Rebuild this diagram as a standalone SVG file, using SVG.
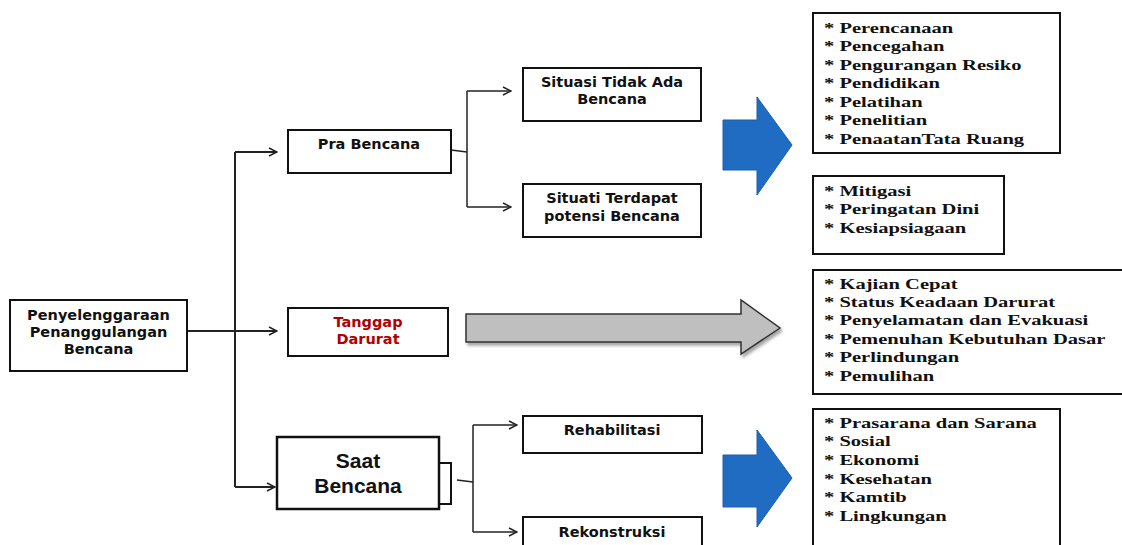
<svg xmlns="http://www.w3.org/2000/svg" width="1122" height="545" viewBox="0 0 1122 545">
<style>
.box{fill:#fff;stroke:#111;stroke-width:2}
.lbl{font-family:"DejaVu Sans",Verdana,sans-serif;font-weight:bold;font-size:14.5px;fill:#111;text-anchor:middle}
.red{fill:#b00000}
.big{font-family:"Liberation Sans",Arial,sans-serif;font-weight:bold;font-size:21px;fill:#111;text-anchor:middle}
.lst{font-family:"Liberation Serif","Times New Roman",serif;font-weight:bold;font-size:15px;fill:#111}
.ln{fill:none;stroke:#222;stroke-width:1.5}
.blue{fill:#1f6cc2;stroke:#1b5fae;stroke-width:1}
</style>
<defs>
<marker id="arr" markerWidth="10" markerHeight="10" refX="9" refY="5" orient="auto" markerUnits="userSpaceOnUse">
<path d="M1,1 L9,5 L1,9" fill="none" stroke="#222" stroke-width="1.5"/>
</marker>
<filter id="sh" x="-10%" y="-20%" width="120%" height="150%">
<feDropShadow dx="2" dy="3" stdDeviation="1.5" flood-color="#000" flood-opacity="0.35"/>
</filter>
</defs>

<g id="connectors">
<path class="ln" d="M187,331 H277" marker-end="url(#arr)" style="stroke-width:2"/>
<path class="ln" d="M235,152 V487" style="stroke-width:2"/>
<path class="ln" d="M235,152 H277" marker-end="url(#arr)" style="stroke-width:2"/>
<path class="ln" d="M235,487 H275" marker-end="url(#arr)" style="stroke-width:2"/>
<path class="ln" d="M451,150 L467,152"/>
<path class="ln" d="M467,91 V207"/>
<path class="ln" d="M467,91 H511" marker-end="url(#arr)"/>
<path class="ln" d="M467,207 H511" marker-end="url(#arr)"/>
<path class="ln" d="M457,480 L473,482"/>
<path class="ln" d="M473,425 V532"/>
<path class="ln" d="M473,425 H517" marker-end="url(#arr)"/>
<path class="ln" d="M473,532 H517" marker-end="url(#arr)"/>
</g>

<g id="main">
<rect class="box" x="10" y="300" width="177" height="71"/>
<text class="lbl" x="98.5" y="320">Penyelenggaraan</text>
<text class="lbl" x="98.5" y="337">Penanggulangan</text>
<text class="lbl" x="98.5" y="354">Bencana</text>
</g>

<g id="pra">
<rect class="box" x="288" y="130" width="163" height="43"/>
<text class="lbl" x="369" y="149">Pra Bencana</text>
</g>

<g id="tanggap">
<rect class="box" x="288" y="308" width="160" height="48"/>
<text class="lbl red" x="368" y="327">Tanggap</text>
<text class="lbl red" x="368" y="344">Darurat</text>
</g>

<g id="saat">
<rect class="box" x="439" y="463" width="12" height="41"/>
<rect class="box" x="277" y="437" width="162" height="72" style="stroke-width:2.5"/>
<text class="big" x="358" y="468">Saat</text>
<text class="big" x="358" y="493">Bencana</text>
</g>

<g id="situasi">
<rect class="box" x="523" y="68" width="178" height="53"/>
<text class="lbl" x="612" y="87">Situasi Tidak Ada</text>
<text class="lbl" x="612" y="104">Bencana</text>
</g>

<g id="situati">
<rect class="box" x="523" y="184" width="178" height="53"/>
<text class="lbl" x="612" y="203">Situati Terdapat</text>
<text class="lbl" x="612" y="221">potensi Bencana</text>
</g>

<g id="rehab">
<rect class="box" x="523" y="416" width="179" height="37"/>
<text class="lbl" x="612" y="435">Rehabilitasi</text>
</g>

<g id="rekon">
<rect class="box" x="523" y="517" width="179" height="40"/>
<text class="lbl" x="612" y="537">Rekonstruksi</text>
</g>

<g id="arrow-blue-1">
<polygon class="blue" points="723,120 757,120 757,97 792,145 757,195 757,170 723,170"/>
</g>
<g id="arrow-gray">
<polygon points="466,314 741,314 741,300 780,328 741,354 741,342 466,342" fill="#bfbfbf" stroke="#333" stroke-width="1.5" filter="url(#sh)"/>
</g>
<g id="arrow-blue-2">
<polygon class="blue" points="723,455 757,455 757,430 792,478 757,527 757,507 723,507"/>
</g>

<g id="list-pra1">
<rect class="box" x="813" y="13" width="247" height="140"/>
<g transform="translate(824,0) scale(1.37,1)">
<text class="lst" x="0" y="33">* Perencanaan</text>
<text class="lst" x="0" y="51.5">* Pencegahan</text>
<text class="lst" x="0" y="70">* Pengurangan Resiko</text>
<text class="lst" x="0" y="88.5">* Pendidikan</text>
<text class="lst" x="0" y="107">* Pelatihan</text>
<text class="lst" x="0" y="125.5">* Penelitian</text>
<text class="lst" x="0" y="144">* PenaatanTata Ruang</text>
</g>
</g>

<g id="list-pra2">
<rect class="box" x="813" y="176" width="191" height="78"/>
<g transform="translate(824,0) scale(1.37,1)">
<text class="lst" x="0" y="196">* Mitigasi</text>
<text class="lst" x="0" y="214.5">* Peringatan Dini</text>
<text class="lst" x="0" y="233">* Kesiapsiagaan</text>
</g>
</g>

<g id="list-tanggap">
<rect class="box" x="813" y="270" width="320" height="124"/>
<g transform="translate(824,0) scale(1.37,1)">
<text class="lst" x="0" y="289">* Kajian Cepat</text>
<text class="lst" x="0" y="307">* Status Keadaan Darurat</text>
<text class="lst" x="0" y="325.5">* Penyelamatan dan Evakuasi</text>
<text class="lst" x="0" y="344">* Pemenuhan Kebutuhan Dasar</text>
<text class="lst" x="0" y="362.5">* Perlindungan</text>
<text class="lst" x="0" y="381">* Pemulihan</text>
</g>
</g>

<g id="list-saat">
<rect class="box" x="813" y="409" width="247" height="150"/>
<g transform="translate(824,0) scale(1.37,1)">
<text class="lst" x="0" y="428">* Prasarana dan Sarana</text>
<text class="lst" x="0" y="446.5">* Sosial</text>
<text class="lst" x="0" y="465">* Ekonomi</text>
<text class="lst" x="0" y="484">* Kesehatan</text>
<text class="lst" x="0" y="502">* Kamtib</text>
<text class="lst" x="0" y="521">* Lingkungan</text>
</g>
</g>
</svg>
